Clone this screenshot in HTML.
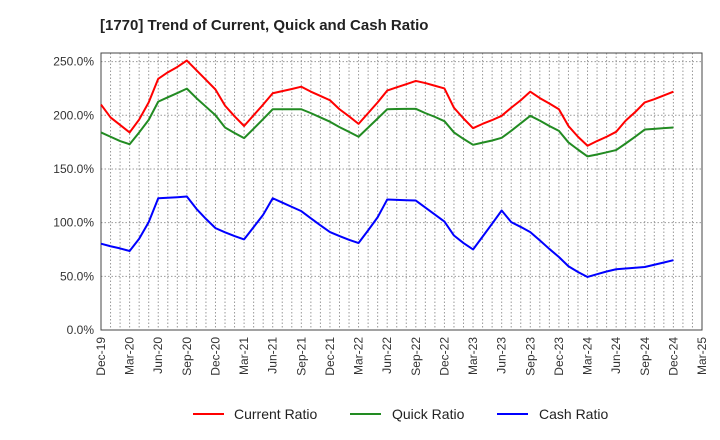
<!DOCTYPE html>
<html><head><meta charset="utf-8"><style>
body{margin:0;background:#fff;}
svg{display:block;font-family:"Liberation Sans",sans-serif;}
</style></head><body>
<svg id="chart" width="720" height="440" viewBox="0 0 720 440">
<text x="100" y="30" font-size="15" font-weight="bold" fill="#222">[1770]  Trend of Current, Quick and Cash Ratio</text>
<g id="grid"></g>
<g id="axes"></g>
<g id="series"></g>
<g font-size="14" fill="#222">
<g><line x1="193" y1="414" x2="224" y2="414" stroke="#ff0000" stroke-width="2"/><text x="234" y="419">Current Ratio</text></g>
<g><line x1="350" y1="414" x2="381" y2="414" stroke="#228b22" stroke-width="2"/><text x="392" y="419">Quick Ratio</text></g>
<g><line x1="497" y1="414" x2="528" y2="414" stroke="#0000ff" stroke-width="2"/><text x="539" y="419">Cash Ratio</text></g>
</g>
</svg>
<script>
const xTickLabels=["Dec-19","Mar-20","Jun-20","Sep-20","Dec-20","Mar-21","Jun-21","Sep-21","Dec-21","Mar-22","Jun-22","Sep-22","Dec-22","Mar-23","Jun-23","Sep-23","Dec-23","Mar-24","Jun-24","Sep-24","Dec-24","Mar-25"];
const yTicks=[0,50,100,150,200,250];
const currentRatio=[210,198,191,184,196,212,234,240,245,251,242,233,224,209,199,190,200,210,220.5,222.5,224.5,226.6,222,218,214,205.6,199,192,202,212,223,226,229,232,230,227.5,225,207,197,188,192,195.5,199.5,207,214,222,216,211,205.6,190,180,171.6,176,180,184.6,195,203,212,215,218.5,222];
const quickRatio=[184,180,176,173,184,195.7,212.7,216.7,220.7,224.8,216,208,200,188.6,183.5,178.7,187.5,196.5,205.6,205.6,205.6,205.6,202,198,194,189,184.5,180,188.5,197,205.6,205.8,206,206,202,198.5,194.5,184,178,172.5,174.5,176.5,179,185.5,192.5,199.5,195,190,185.5,174.7,168,161.7,163.5,165.5,167.6,173.7,180,186.7,187.3,188,188.6];
const cashRatio=[80.4,78,76,73.6,85,100.5,122.7,123.2,123.7,124.3,112.9,103.5,94.9,91,87.5,84.4,95.8,107.3,122.7,118.7,114.7,110.7,104,97.5,91.2,87.5,84,81,92.8,105,121.5,121.2,120.9,120.6,114,107.5,101,88,81,75,87,99,111.3,100.5,96,91.2,83.5,75.5,68,59.4,54,49.4,52,54.5,56.6,57.3,58,58.7,60.8,62.9,65];
const L=101,R=702,T=53,B=330,months=63,yMax=258;
const NS="http://www.w3.org/2000/svg";
function sx(i){return L+(R-L)*i/months;}
function sy(v){return B-(B-T)*v/yMax;}
function mk(t,a,p){const e=document.createElementNS(NS,t);for(const k in a)e.setAttribute(k,a[k]);p.appendChild(e);return e;}
const grid=document.getElementById('grid'),axes=document.getElementById('axes'),series=document.getElementById('series');
for(let m=1;m<months;m++){const g=mk('line',{x1:sx(m),x2:sx(m),y1:T,y2:B,stroke:'#999','stroke-dasharray':'1.5,2','stroke-width':1},grid);

}
yTicks.forEach(v=>{if(v>0){const g=mk('line',{x1:L,x2:R,y1:sy(v),y2:sy(v),stroke:'#999','stroke-dasharray':'1.5,2','stroke-width':1},grid);

}
const t=mk('text',{x:L-7,y:sy(v)+4,'text-anchor':'end','font-size':12,fill:'#333'},axes);t.textContent=v.toFixed(1)+'%';

});
xTickLabels.forEach((s,i)=>{const x=sx(i*3);const t=mk('text',{x:0,y:0,'text-anchor':'end','font-size':12,fill:'#333',transform:`translate(${x+4},${B+7}) rotate(-90)`},axes);t.textContent=s;

});
const box=mk('rect',{x:L,y:T,width:R-L,height:B-T,fill:'none',stroke:'#444','stroke-width':1},axes);


[[currentRatio,'#ff0000','current-ratio-line'],[quickRatio,'#228b22','quick-ratio-line'],[cashRatio,'#0000ff','cash-ratio-line']].forEach(([d,c,n])=>{
const p=mk('polyline',{points:d.map((v,i)=>sx(i)+','+sy(v)).join(' '),fill:'none',stroke:c,'stroke-width':2,'stroke-linejoin':'round'},series);

});
</script>
</body></html>
